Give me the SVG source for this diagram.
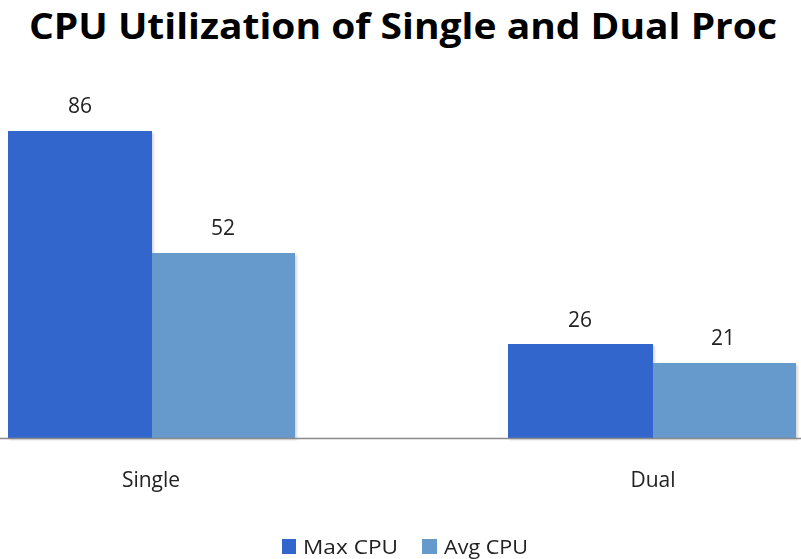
<svg xmlns="http://www.w3.org/2000/svg" width="801" height="559" viewBox="0 0 801 559">
  <style>
    .title { font-family: "Open Sans", "Liberation Sans", sans-serif; font-weight: bold; font-size: 36px; fill: #000; }
    .lbl { font-family: "Open Sans", "Liberation Sans", sans-serif; font-size: 21px; fill: #222; text-anchor: middle; }
    .leg { font-family: "Open Sans", "Liberation Sans", sans-serif; font-size: 20px; fill: #222; }
    .max { fill: #3366cc; }
    .avg { fill: #6699cc; }
    .shadow { fill: #000; opacity: 0.15; }
  </style>
  <defs>
    <filter id="soft" x="-10%" y="-10%" width="120%" height="120%">
      <feGaussianBlur stdDeviation="1"/>
    </filter>
  </defs>
  <rect width="801" height="559" fill="#fff"/>

  <text class="title" x="29" y="39" textLength="748" lengthAdjust="spacingAndGlyphs">CPU Utilization of Single and Dual Proc</text>

  <!-- soft drop shadows under each bar -->
  <g filter="url(#soft)">
    <rect class="shadow" x="10" y="133" width="144" height="307"/>
    <rect class="shadow" x="154" y="255" width="143" height="185"/>
    <rect class="shadow" x="510" y="346" width="145" height="94"/>
    <rect class="shadow" x="655" y="365" width="143" height="75"/>
  </g>

  <g id="single">
    <rect class="max" x="8" y="131" width="144" height="307"/>
    <rect class="avg" x="152" y="253" width="143" height="185"/>
    <text class="lbl" x="80" y="113">86</text>
    <text class="lbl" x="223" y="235">52</text>
    <text class="lbl" x="151" y="487">Single</text>
  </g>

  <g id="dual">
    <rect class="max" x="508" y="344" width="145" height="94"/>
    <rect class="avg" x="653" y="363" width="143" height="75"/>
    <text class="lbl" x="580" y="327">26</text>
    <text class="lbl" x="723" y="345">21</text>
    <text class="lbl" x="653" y="487">Dual</text>
  </g>

  <!-- category axis -->
  <line x1="0" y1="438.5" x2="801" y2="438.5" stroke="#8a8a8a" stroke-width="1.5"/>

  <g id="legend">
    <rect class="max" x="282" y="539" width="14" height="15"/>
    <text class="leg" x="303" y="554" textLength="95" lengthAdjust="spacingAndGlyphs">Max CPU</text>
    <rect class="avg" x="422" y="539" width="15" height="15"/>
    <text class="leg" x="444" y="554" textLength="84" lengthAdjust="spacingAndGlyphs">Avg CPU</text>
  </g>
</svg>
